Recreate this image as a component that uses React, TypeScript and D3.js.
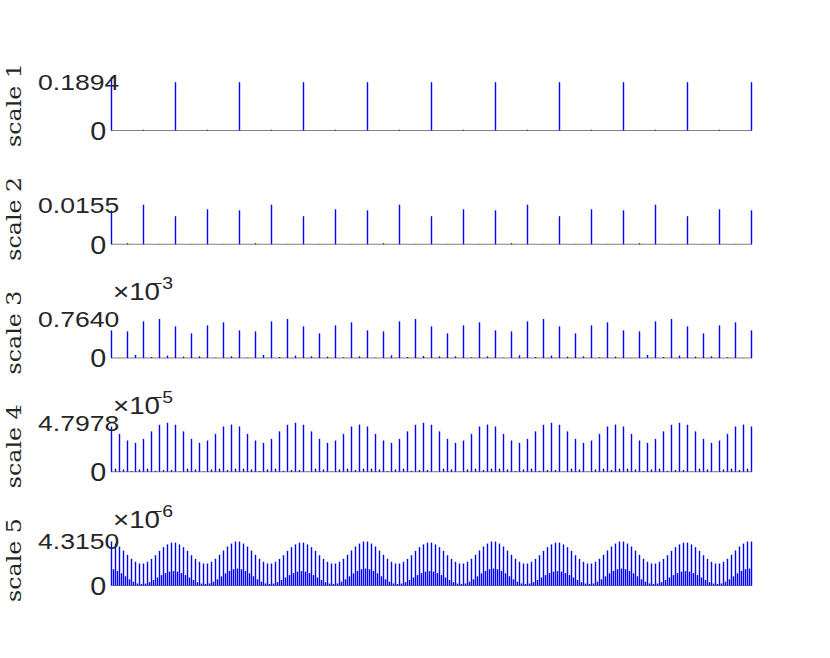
import React from "react";
import * as d3 from "d3";

// ---------- data ----------
const scaleLabels = ["scale 1", "scale 2", "scale 3", "scale 4", "scale 5"];
const maxTickLabels = ["0.1894", "0.0155", "0.7640", "4.7978", "4.3150"];
const maxTickValues = [0.1894, 0.0155, 0.764, 4.7978, 4.315];
const exponentLabels = ["", "", "−3", "−5", "−6"];
const yLimits = [0.2, 0.02, 1, 5, 5];

// scale 1: stems at even / odd positions
const scale1Even = [0.2095, 0.1894, 0.1894, 0.1894, 0.1894, 0.1894, 0.1894, 0.1894, 0.1894, 0.1894, 0.1894];
const scale1Odd = [0.003, 0.003, 0.003, 0.003, 0.003, 0.003, 0.003, 0.003, 0.003, 0.003];

// scale 2
const scale2Even = [
  0.0133, 0.0155, 0.011, 0.0137, 0.0133, 0.0155, 0.011, 0.0137, 0.0133, 0.0155, 0.011,
  0.0137, 0.0133, 0.0155, 0.011, 0.0137, 0.0133, 0.0155, 0.011, 0.0137, 0.0133,
];
const scale2Odd = [
  0.0004, 0.0001, 0.0001, 0.0001, 0.0004, 0.0001, 0.0001, 0.0001, 0.0004, 0.0001,
  0.0001, 0.0001, 0.0004, 0.0001, 0.0001, 0.0001, 0.0004, 0.0001, 0.0001, 0.0001,
];

// scale 3 (x 1e-3)
const scale3Even = [
  0.542,
  0.522, 0.718, 0.764, 0.62, 0.483, 0.64, 0.699, 0.542,
  0.522, 0.718, 0.764, 0.62, 0.483, 0.64, 0.699, 0.542,
  0.522, 0.718, 0.764, 0.62, 0.483, 0.64, 0.699, 0.542,
  0.522, 0.718, 0.764, 0.62, 0.483, 0.64, 0.699, 0.542,
  0.522, 0.718, 0.764, 0.62, 0.483, 0.64, 0.699, 0.542,
];
const scale3Odd = [
  0.004, 0.059, 0.02, 0.046, 0.026, 0.033, 0.007, 0.033,
  0.007, 0.059, 0.02, 0.046, 0.033, 0.026, 0.013, 0.033,
  0.007, 0.052, 0.02, 0.039, 0.033, 0.033, 0.013, 0.033,
  0.007, 0.052, 0.02, 0.046, 0.026, 0.033, 0.013, 0.026,
  0.004, 0.059, 0.02, 0.046, 0.026, 0.033, 0.013, 0.004,
];

// scale 4 (x 1e-5)
const scale4Even = [
  4.44,
  3.71, 3.06, 2.83, 3.22, 3.96, 4.6, 4.7978, 4.6, 3.96, 3.22, 2.83, 3.06, 3.71, 4.44, 4.63, 4.44,
  3.71, 3.06, 2.83, 3.22, 3.96, 4.6, 4.7978, 4.6, 3.96, 3.22, 2.83, 3.06, 3.71, 4.44, 4.63, 4.44,
  3.71, 3.06, 2.83, 3.22, 3.96, 4.6, 4.7978, 4.6, 3.96, 3.22, 2.83, 3.06, 3.71, 4.44, 4.63, 4.44,
  3.71, 3.06, 2.83, 3.22, 3.96, 4.6, 4.7978, 4.6, 3.96, 3.22, 2.83, 3.06, 3.71, 4.44, 4.63, 4.44,
  3.71, 3.06, 2.83, 3.22, 3.96, 4.6, 4.7978, 4.6, 3.96, 3.22, 2.83, 3.06, 3.71, 4.44, 4.63, 4.44,
];
const scale4Odd = [
  0.3, 0.23, 0.07, 0.23, 0.3, 0.1, 0.17, 0.17, 0.03, 0.3, 0.23, 0.03, 0.23, 0.3, 0.17, 0.3,
  0.3, 0.23, 0.07, 0.23, 0.3, 0.1, 0.17, 0.17, 0.03, 0.3, 0.23, 0.03, 0.23, 0.3, 0.17, 0.3,
  0.3, 0.23, 0.07, 0.23, 0.3, 0.1, 0.17, 0.17, 0.03, 0.3, 0.23, 0.03, 0.23, 0.3, 0.17, 0.3,
  0.3, 0.23, 0.07, 0.23, 0.3, 0.1, 0.17, 0.17, 0.03, 0.3, 0.23, 0.03, 0.23, 0.3, 0.17, 0.3,
  0.3, 0.23, 0.07, 0.23, 0.3, 0.1, 0.17, 0.17, 0.03, 0.3, 0.23, 0.03, 0.23, 0.3, 0.17, 0.3,
];

// scale 5 (x 1e-6)
const scale5Even = [
  4.315, 4.11, 3.82, 3.43, 3.0, 2.62, 2.33, 2.16, 2.16, 2.32, 2.6, 2.97, 3.39, 3.76, 4.03, 4.21,
  4.21, 4.03, 3.76, 3.39, 2.97, 2.6, 2.32, 2.16, 2.16, 2.33, 2.62, 3.0, 3.43, 3.82, 4.11, 4.31,
  4.31, 4.11, 3.82, 3.43, 3.0, 2.62, 2.33, 2.16, 2.16, 2.32, 2.6, 2.97, 3.39, 3.76, 4.03, 4.21,
  4.21, 4.03, 3.76, 3.39, 2.97, 2.6, 2.32, 2.16, 2.16, 2.33, 2.62, 3.0, 3.43, 3.82, 4.11, 4.31,
  4.31, 4.11, 3.82, 3.43, 3.0, 2.62, 2.33, 2.16, 2.16, 2.32, 2.6, 2.97, 3.39, 3.76, 4.03, 4.21,
  4.21, 4.03, 3.76, 3.39, 2.97, 2.6, 2.32, 2.16, 2.16, 2.33, 2.62, 3.0, 3.43, 3.82, 4.11, 4.31,
  4.31, 4.11, 3.82, 3.43, 3.0, 2.62, 2.33, 2.16, 2.16, 2.32, 2.6, 2.97, 3.39, 3.76, 4.03, 4.21,
  4.21, 4.03, 3.76, 3.39, 2.97, 2.6, 2.32, 2.16, 2.16, 2.33, 2.62, 3.0, 3.43, 3.82, 4.11, 4.31,
  4.31, 4.11, 3.82, 3.43, 3.0, 2.62, 2.33, 2.16, 2.16, 2.32, 2.6, 2.97, 3.39, 3.76, 4.03, 4.21,
  4.21, 4.03, 3.76, 3.39, 2.97, 2.6, 2.32, 2.16, 2.16, 2.33, 2.62, 3.0, 3.43, 3.82, 4.11, 4.31,
  4.31,
];
const scale5Odd = [
  1.6, 1.43, 1.19, 0.9, 0.61, 0.37, 0.2, 0.15, 0.19, 0.33, 0.54, 0.78, 1.02, 1.22, 1.36, 1.41,
  1.36, 1.22, 1.02, 0.78, 0.54, 0.33, 0.19, 0.15, 0.2, 0.37, 0.61, 0.9, 1.19, 1.43, 1.6, 1.66,
  1.6, 1.43, 1.19, 0.9, 0.61, 0.37, 0.2, 0.15, 0.19, 0.33, 0.54, 0.78, 1.02, 1.22, 1.36, 1.41,
  1.36, 1.22, 1.02, 0.78, 0.54, 0.33, 0.19, 0.15, 0.2, 0.37, 0.61, 0.9, 1.19, 1.43, 1.6, 1.66,
  1.6, 1.43, 1.19, 0.9, 0.61, 0.37, 0.2, 0.15, 0.19, 0.33, 0.54, 0.78, 1.02, 1.22, 1.36, 1.41,
  1.36, 1.22, 1.02, 0.78, 0.54, 0.33, 0.19, 0.15, 0.2, 0.37, 0.61, 0.9, 1.19, 1.43, 1.6, 1.66,
  1.6, 1.43, 1.19, 0.9, 0.61, 0.37, 0.2, 0.15, 0.19, 0.33, 0.54, 0.78, 1.02, 1.22, 1.36, 1.41,
  1.36, 1.22, 1.02, 0.78, 0.54, 0.33, 0.19, 0.15, 0.2, 0.37, 0.61, 0.9, 1.19, 1.43, 1.6, 1.66,
  1.6, 1.43, 1.19, 0.9, 0.61, 0.37, 0.2, 0.15, 0.19, 0.33, 0.54, 0.78, 1.02, 1.22, 1.36, 1.41,
  1.36, 1.22, 1.02, 0.78, 0.54, 0.33, 0.19, 0.15, 0.2, 0.37, 0.61, 0.9, 1.19, 1.43, 1.6, 1.66,
];

const evenSeries = [scale1Even, scale2Even, scale3Even, scale4Even, scale5Even];
const oddSeries = [scale1Odd, scale2Odd, scale3Odd, scale4Odd, scale5Odd];

// ---------- layout ----------
const W = 830;
const H = 658;
const plotLeft = 111.5;
const plotRight = 751.5;
const axisHeight = 51;
const firstBaseline = 130.5;
const panelStep = 113.75;
const textColor = "#262626";
const stemColor = "#0000ff";
const sans = "'Liberation Sans', Arial, Helvetica, sans-serif";
const serif = "'DejaVu Serif', 'Liberation Serif', serif";

function interleave(even: number[], odd: number[]) {
  const out: number[] = [];
  for (let i = 0; i < even.length; i++) {
    out.push(even[i]);
    if (i < odd.length) out.push(odd[i]);
  }
  return out;
}

export default function App() {
  return (
    <svg
      width={W}
      height={H}
      style={{ position: "absolute", left: 0, top: 0, background: "#fff" }}
    >
      <rect width={W} height={H} fill="#fff" />
      {evenSeries.map((even, i) => {
        const values = interleave(even, oddSeries[i]);
        const base = firstBaseline + i * panelStep;
        const x = d3.scaleLinear().domain([0, values.length - 1]).range([plotLeft, plotRight]);
        const y = d3.scaleLinear().domain([0, yLimits[i]]).range([base, base - axisHeight]);
        const tickY = y(maxTickValues[i]);
        return (
          <g key={i}>
            <line
              x1={x(0) - 0.5}
              x2={x(values.length - 1) + 0.5}
              y1={y(0)}
              y2={y(0)}
              stroke="#808080"
              strokeWidth={1.2}
            />
            <g stroke={stemColor} strokeWidth={1.4}>
              {values.map((v, k) => (
                <line key={k} x1={x(k)} x2={x(k)} y1={y(0)} y2={y(v)} />
              ))}
            </g>
            {/* zero tick label */}
            <text
              transform={`translate(106.3,${y(0) + 9.3}) scale(1.15,1)`}
              textAnchor="end"
              fontFamily={sans}
              fontSize={25}
              fill={textColor}
            >
              0
            </text>
            {/* max tick label */}
            <text
              transform={`translate(38,${tickY + 7.8}) scale(1.18,1)`}
              textAnchor="start"
              fontFamily={sans}
              fontSize={22.5}
              fill={textColor}
            >
              {maxTickLabels[i]}
            </text>
            {exponentLabels[i] && (
              <g>
                <text
                  transform={`translate(113,${base - 58}) scale(1.18,1)`}
                  fontFamily={sans}
                  fontSize={23.5}
                  fill={textColor}
                >
                  ×10
                </text>
                <text
                  transform={`translate(151,${base - 69}) scale(1.18,1)`}
                  fontFamily={sans}
                  fontSize={16.5}
                  fill={textColor}
                >
                  {exponentLabels[i]}
                </text>
              </g>
            )}
            {/* y label */}
            <text
              transform={`translate(20.5,${base - axisHeight / 2}) rotate(-90)`}
              textAnchor="middle"
              fontFamily={serif}
              fontSize={21}
              fontWeight={300}
              textLength={84}
              lengthAdjust="spacingAndGlyphs"
              fill={textColor}
            >
              {scaleLabels[i]}
            </text>
          </g>
        );
      })}
    </svg>
  );
}
